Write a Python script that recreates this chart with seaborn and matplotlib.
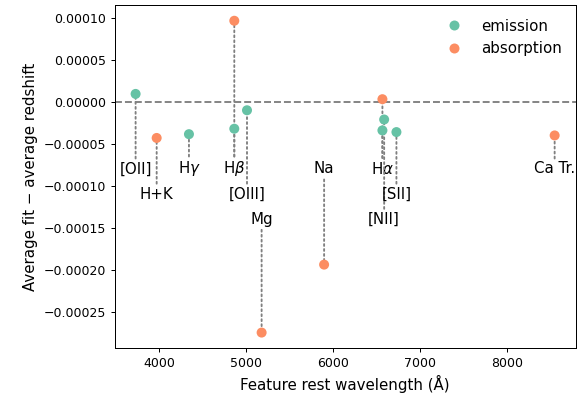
import matplotlib
matplotlib.use("Agg")
import matplotlib.pyplot as plt
import seaborn as sns
import pandas as pd

# Emission features
em_names = ["[OII]", r"H$\gamma$", r"H$\beta$", "[OIII]", r"H$\alpha$", "[NII]", "[SII]"]
em_wave = [3727, 4340, 4861, 5007, 6563, 6583, 6724]
em_offset = [9.5e-6, -3.85e-5, -3.2e-5, -1.0e-5, -3.4e-5, -2.1e-5, -3.6e-5]

# Absorption features
ab_names = ["H+K", r"H$\beta$", "Mg", "Na", r"H$\alpha$", "Ca Tr."]
ab_wave = [3969, 4861, 5175, 5893, 6563, 8542]
ab_offset = [-4.3e-5, 9.67e-5, -2.75e-4, -1.94e-4, 3.2e-6, -4.0e-5]

# Label placement (text level) per feature
label_names = ["[OII]", "H+K", r"H$\gamma$", r"H$\beta$", "[OIII]", "Mg", "Na",
               r"H$\alpha$", "[SII]", "[NII]", "Ca Tr."]
label_wave = [3727, 3969, 4340, 4861, 5007, 5175, 5893, 6563, 6724, 6583, 8542]
label_level = [-8e-5, -11e-5, -8e-5, -8e-5, -11e-5, -14e-5, -8e-5, -8e-5, -11e-5, -14e-5, -8e-5]

sns.set_style("ticks")
plt.rcParams["font.family"] = ["DejaVu Sans"]
plt.rcParams.update({"text.color": "black", "axes.labelcolor": "black",
                     "xtick.color": "black", "ytick.color": "black",
                     "axes.edgecolor": "black"})

df = pd.DataFrame({
    "name": em_names + ab_names,
    "wave": em_wave + ab_wave,
    "offset": em_offset + ab_offset,
    "kind": ["emission"] * len(em_names) + ["absorption"] * len(ab_names),
})

fig = plt.figure(figsize=(582 / 90, 397 / 90), dpi=90)
ax = fig.add_axes([0.197, 0.123, 0.792, 0.864])

ax.axhline(0, color="gray", ls="--", lw=1.5, zorder=1)

label_map = dict(zip(label_names, zip(label_wave, label_level)))
seen = set()
for _, row in df.iterrows():
    lx, ly = label_map[row["name"]]
    tcolor = "none" if row["name"] in seen else "black"
    seen.add(row["name"])
    ax.annotate(row["name"], xy=(row["wave"], row["offset"]), xytext=(lx, ly),
                ha="center", va="center", fontsize=12, color=tcolor,
                arrowprops=dict(arrowstyle="-", linestyle=":", color="gray", lw=1.5,
                                shrinkA=0, shrinkB=0), zorder=2)

sns.scatterplot(data=df, x="wave", y="offset", hue="kind",
                palette={"emission": "#66c2a5", "absorption": "#fc8d62"},
                s=64, linewidth=0, ax=ax, zorder=4)

sns.move_legend(ax, "upper right", title=None, frameon=False, fontsize=12)

ax.set_xlabel("Feature rest wavelength (Å)", fontsize=12)
ax.set_ylabel("Average fit − average redshift", fontsize=12)
ax.tick_params(labelsize=10)

fig.savefig("out.png", dpi=90)
